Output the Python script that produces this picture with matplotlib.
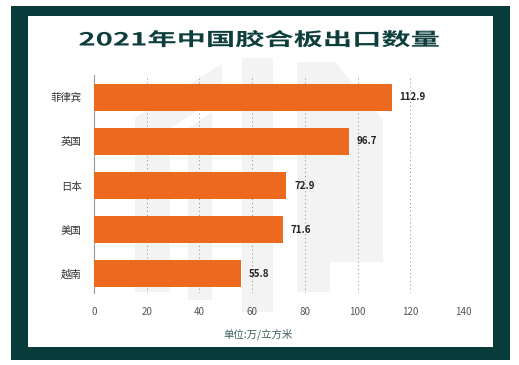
import matplotlib
matplotlib.use("Agg")
import matplotlib.pyplot as plt
from matplotlib.patches import Rectangle, Polygon
from matplotlib import patheffects
from matplotlib.transforms import Affine2D

plt.rcParams['font.family'] = ['Noto Sans CJK SC', 'DejaVu Sans']

# ---- data ----
title = "2021年中国胶合板出口数量"
countries = ["菲律宾", "英国", "日本", "美国", "越南"]
values = [112.9, 96.7, 72.9, 71.6, 55.8]
xticks = [0, 20, 40, 60, 80, 100, 120, 140]
unit_label = "单位:万/立方米"

W, H = 519, 365
fig = plt.figure(figsize=(W / 100, H / 100), dpi=100)
fig.patch.set_facecolor("white")

def px(x, y):
    return (x / W, 1 - y / H)

# frame
frame_col = "#083c3a"
fig.patches.append(Rectangle(px(11, 360), 499 / W, 354 / H, transform=fig.transFigure,
                             facecolor=frame_col, edgecolor="none", zorder=0))
fig.patches.append(Rectangle(px(28, 347), 465 / W, 331 / H, transform=fig.transFigure,
                             facecolor="white", edgecolor="none", zorder=0.1))

# faint watermark shapes (pixel coords)
wm = "#f3f3f3"
shapes = [
    [(135, 118), (222, 64), (222, 96), (170, 128), (170, 292), (135, 292)],
    [(188, 128), (212, 112), (212, 300), (188, 300)],
    [(242, 58), (273, 58), (273, 312), (242, 312)],
    [(297, 62), (335, 62), (383, 120), (383, 262), (330, 262), (330, 292), (297, 292)],
]
for s in shapes:
    fig.patches.append(Polygon([px(x, y) for x, y in s], closed=True, transform=fig.transFigure,
                               facecolor=wm, edgecolor="none", zorder=0.5))

# axes
ax = fig.add_axes([94 / W, (H - 293) / H, 369 / W, 218 / H])
ax.set_zorder(2)
ax.set_facecolor("none")
ypos = list(range(len(countries)))
ax.barh(ypos, values, height=0.61, color="#EB6A1F", zorder=3)
ax.set_xlim(0, 140)
ax.set_ylim(4.43, -0.5)
ax.set_xticks(xticks)
ax.set_xticklabels([str(t) for t in xticks])
ax.set_yticks(ypos)
ax.set_yticklabels(countries)
ax.tick_params(axis="x", length=0, pad=10, labelsize=7, labelcolor="#555555")
ax.tick_params(axis="y", length=0, pad=9, labelsize=7.5, labelcolor="#333333")
for sp in ["top", "right", "bottom"]:
    ax.spines[sp].set_visible(False)
ax.spines["left"].set_color("#999999")
ax.spines["left"].set_linewidth(0.8)
ax.xaxis.grid(True, linestyle=(0, (1, 3)), color="#888888", linewidth=0.7, zorder=1)
ax.set_axisbelow(True)
for i, v in enumerate(values):
    ax.text(v + 3, i, f"{v:.1f}", va="center", ha="left", fontsize=7,
            fontweight="bold", color="#222222", zorder=4)

# title with horizontal stretch
class Stretch(patheffects.AbstractPathEffect):
    def __init__(self, sx, cx):
        super().__init__()
        self.sx = sx
        self.cx = cx
    def draw_path(self, renderer, gc, tpath, affine, rgbFace=None):
        aff = affine + Affine2D().translate(-self.cx, 0).scale(self.sx, 1).translate(self.cx, 0)
        renderer.draw_path(gc, tpath, aff, rgbFace)

tcx = 258.5
t = fig.text(tcx / W, 1 - 40 / H, title, ha="center", va="center", fontsize=13,
             fontweight="bold", color="#0e3f3d", zorder=3)
t.set_path_effects([Stretch(1.62, tcx)])

# unit label
fig.text(223 / W, 1 - 334 / H, unit_label, ha="left", va="center", fontsize=7.5,
         color="#3d625d", zorder=3)

fig.savefig("out.png", dpi=100)
